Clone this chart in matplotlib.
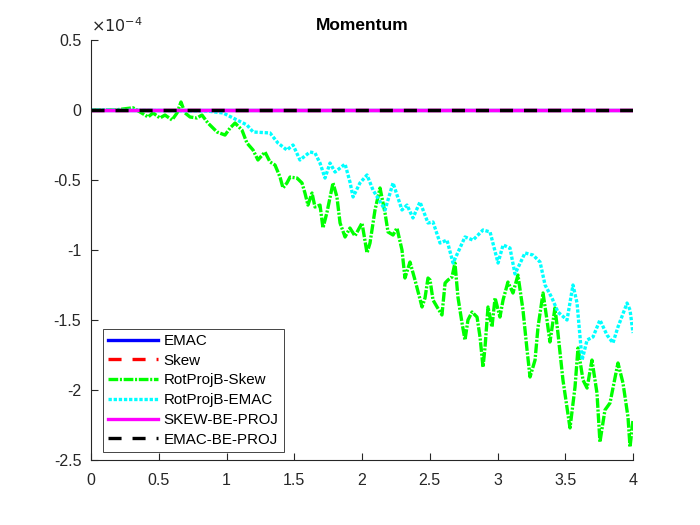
import matplotlib
matplotlib.use("Agg")
import matplotlib.pyplot as plt

plt.rcParams["font.family"] = ["Liberation Sans", "DejaVu Sans"]
plt.rcParams["axes.unicode_minus"] = False
plt.rcParams["lines.scale_dashes"] = False

# values are in units of 1e-4
flat_x = [0, 4]
flat_y = [0, 0]

green_x = [0, 0.177, 0.31, 0.399, 0.421, 0.458, 0.509, 0.546, 0.598, 0.635,
           0.664, 0.694, 0.731, 0.782, 0.819, 0.863, 0.930, 0.989, 1.026, 1.063,
           1.114, 1.151, 1.196, 1.232, 1.284, 1.321, 1.358, 1.395, 1.417, 1.446,
           1.469, 1.520, 1.557, 1.579, 1.601, 1.631, 1.653, 1.690, 1.712, 1.742,
           1.786, 1.815, 1.838, 1.875, 1.911, 1.948, 2.0, 2.037, 2.059, 2.096,
           2.133, 2.170, 2.192, 2.229, 2.258, 2.295, 2.317, 2.354, 2.391, 2.443,
           2.465, 2.487, 2.502, 2.524, 2.554, 2.590, 2.613, 2.635, 2.664, 2.686,
           2.708, 2.738, 2.760, 2.782, 2.812, 2.849, 2.871, 2.893, 2.908, 2.930,
           2.959, 2.982, 3.018, 3.041, 3.077, 3.114, 3.151, 3.188, 3.218, 3.240,
           3.277, 3.299, 3.336, 3.365, 3.387, 3.424, 3.446, 3.483, 3.535, 3.572,
           3.594, 3.631, 3.661, 3.697, 3.734, 3.756, 3.793, 3.830, 3.889, 3.926,
           3.963, 3.978, 4.0]
green_y = [0, 0, 0.016, -0.036, -0.05, -0.021, -0.057, -0.036, -0.071, -0.021,
           0.057, -0.021, -0.05, -0.057, -0.036, -0.093, -0.157, -0.179, -0.129, -0.093,
           -0.143, -0.236, -0.286, -0.357, -0.3, -0.371, -0.393, -0.479, -0.557, -0.521,
           -0.479, -0.486, -0.521, -0.593, -0.679, -0.593, -0.693, -0.679, -0.843, -0.729,
           -0.521, -0.621, -0.807, -0.907, -0.843, -0.9, -0.807, -1.021, -0.95, -0.714,
           -0.557, -0.736, -0.871, -0.893, -0.843, -1.0, -1.2, -1.086, -1.214, -1.407,
           -1.343, -1.2, -1.214, -1.357, -1.407, -1.464, -1.236, -1.214, -1.193, -1.093,
           -1.336, -1.521, -1.643, -1.5, -1.443, -1.479, -1.621, -1.836, -1.693, -1.407,
           -1.55, -1.343, -1.479, -1.357, -1.229, -1.307, -1.179, -1.429, -1.714, -1.907,
           -1.786, -1.55, -1.307, -1.5, -1.657, -1.414, -1.593, -1.929, -2.271, -1.979,
           -1.7, -1.929, -1.986, -1.786, -2.021, -2.371, -2.143, -2.093, -1.807, -1.95,
           -2.193, -2.407, -2.214]

cyan_x = [0, 0.856, 0.974, 1.077, 1.151, 1.196, 1.321, 1.380, 1.446, 1.491,
          1.542, 1.616, 1.653, 1.690, 1.727, 1.764, 1.801, 1.875, 1.911, 1.934,
          1.985, 2.037, 2.081, 2.170, 2.229, 2.295, 2.332, 2.376, 2.428, 2.487,
          2.524, 2.576, 2.627, 2.672, 2.760, 2.819, 2.893, 2.945, 3.004, 3.041,
          3.092, 3.129, 3.203, 3.262, 3.314, 3.351, 3.402, 3.446, 3.513, 3.557,
          3.587, 3.624, 3.661, 3.705, 3.756, 3.808, 3.852, 3.889, 3.956, 3.978, 4.0]
cyan_y = [0, -0.007, -0.021, -0.071, -0.107, -0.157, -0.164, -0.236, -0.286, -0.25,
          -0.357, -0.3, -0.307, -0.379, -0.486, -0.379, -0.443, -0.386, -0.514, -0.621,
          -0.521, -0.464, -0.571, -0.714, -0.521, -0.714, -0.679, -0.771, -0.657, -0.807,
          -0.8, -0.95, -0.929, -1.093, -0.907, -0.929, -0.857, -0.871, -1.093, -0.964,
          -0.986, -1.171, -1.021, -1.036, -1.086, -1.25, -1.343, -1.443, -1.5, -1.25,
          -1.379, -1.786, -1.643, -1.621, -1.5, -1.607, -1.664, -1.55, -1.379, -1.429, -1.593]

x_ticks = [0, 0.5, 1, 1.5, 2, 2.5, 3, 3.5, 4]
y_ticks = [-2.5, -2, -1.5, -1, -0.5, 0, 0.5]

fig = plt.figure(figsize=(7, 5.25), dpi=100)
ax = fig.add_axes([0.13, 0.1238, 0.7743, 0.8])

lw = 2.4
ax.plot(flat_x, flat_y, color="#0000ff", lw=lw, ls="-", label="EMAC")
ax.plot(flat_x, flat_y, color="#ff0000", lw=lw, ls=(0, (9.4, 7.9)), label="Skew")
ax.plot(green_x, green_y, color="#00ff00", lw=lw, ls=(0, (7, 1.2, 1.5, 1.2)),
        label="RotProjB-Skew")
ax.plot(cyan_x, cyan_y, color="#00ffff", lw=lw, ls=(0, (2.4, 1.3)),
        label="RotProjB-EMAC")
ax.plot(flat_x, flat_y, color="#ff00ff", lw=lw, ls="-", label="SKEW-BE-PROJ")
ax.plot(flat_x, flat_y, color="#000000", lw=lw, ls=(0, (9.4, 7.9)),
        label="EMAC-BE-PROJ")

ax.set_xlim(0, 4)
ax.set_ylim(-2.5, 0.5)
ax.set_xticks(x_ticks)
ax.set_xticklabels([f"{v:g}" for v in x_ticks])
ax.set_yticks(y_ticks)
ax.set_yticklabels([f"{v:g}" for v in y_ticks])
ax.tick_params(direction="in", length=5, width=0.8, labelsize=11.5, colors="#262626")
ax.tick_params(axis="x", pad=9)
ax.tick_params(axis="y", pad=7)
for side in ("top", "right"):
    ax.spines[side].set_visible(False)
for side in ("left", "bottom"):
    ax.spines[side].set_color("#262626")
    ax.spines[side].set_linewidth(0.8)

ax.set_title("Momentum", fontsize=12.5, fontweight="bold", pad=7)
ax.text(0.0, 1.012, r"$\times10^{-4}$", transform=ax.transAxes, fontsize=11.5,
        ha="left", va="bottom", color="#262626")

leg = ax.legend(loc="lower left", bbox_to_anchor=(0.022, 0.019), borderaxespad=0,
                fontsize=10.9, handlelength=3.3, handletextpad=0.35,
                labelspacing=0.38, borderpad=0.35, fancybox=False, framealpha=1)
leg.get_frame().set_edgecolor("#262626")
leg.get_frame().set_linewidth(0.6)

fig.savefig("out.png", dpi=100)
